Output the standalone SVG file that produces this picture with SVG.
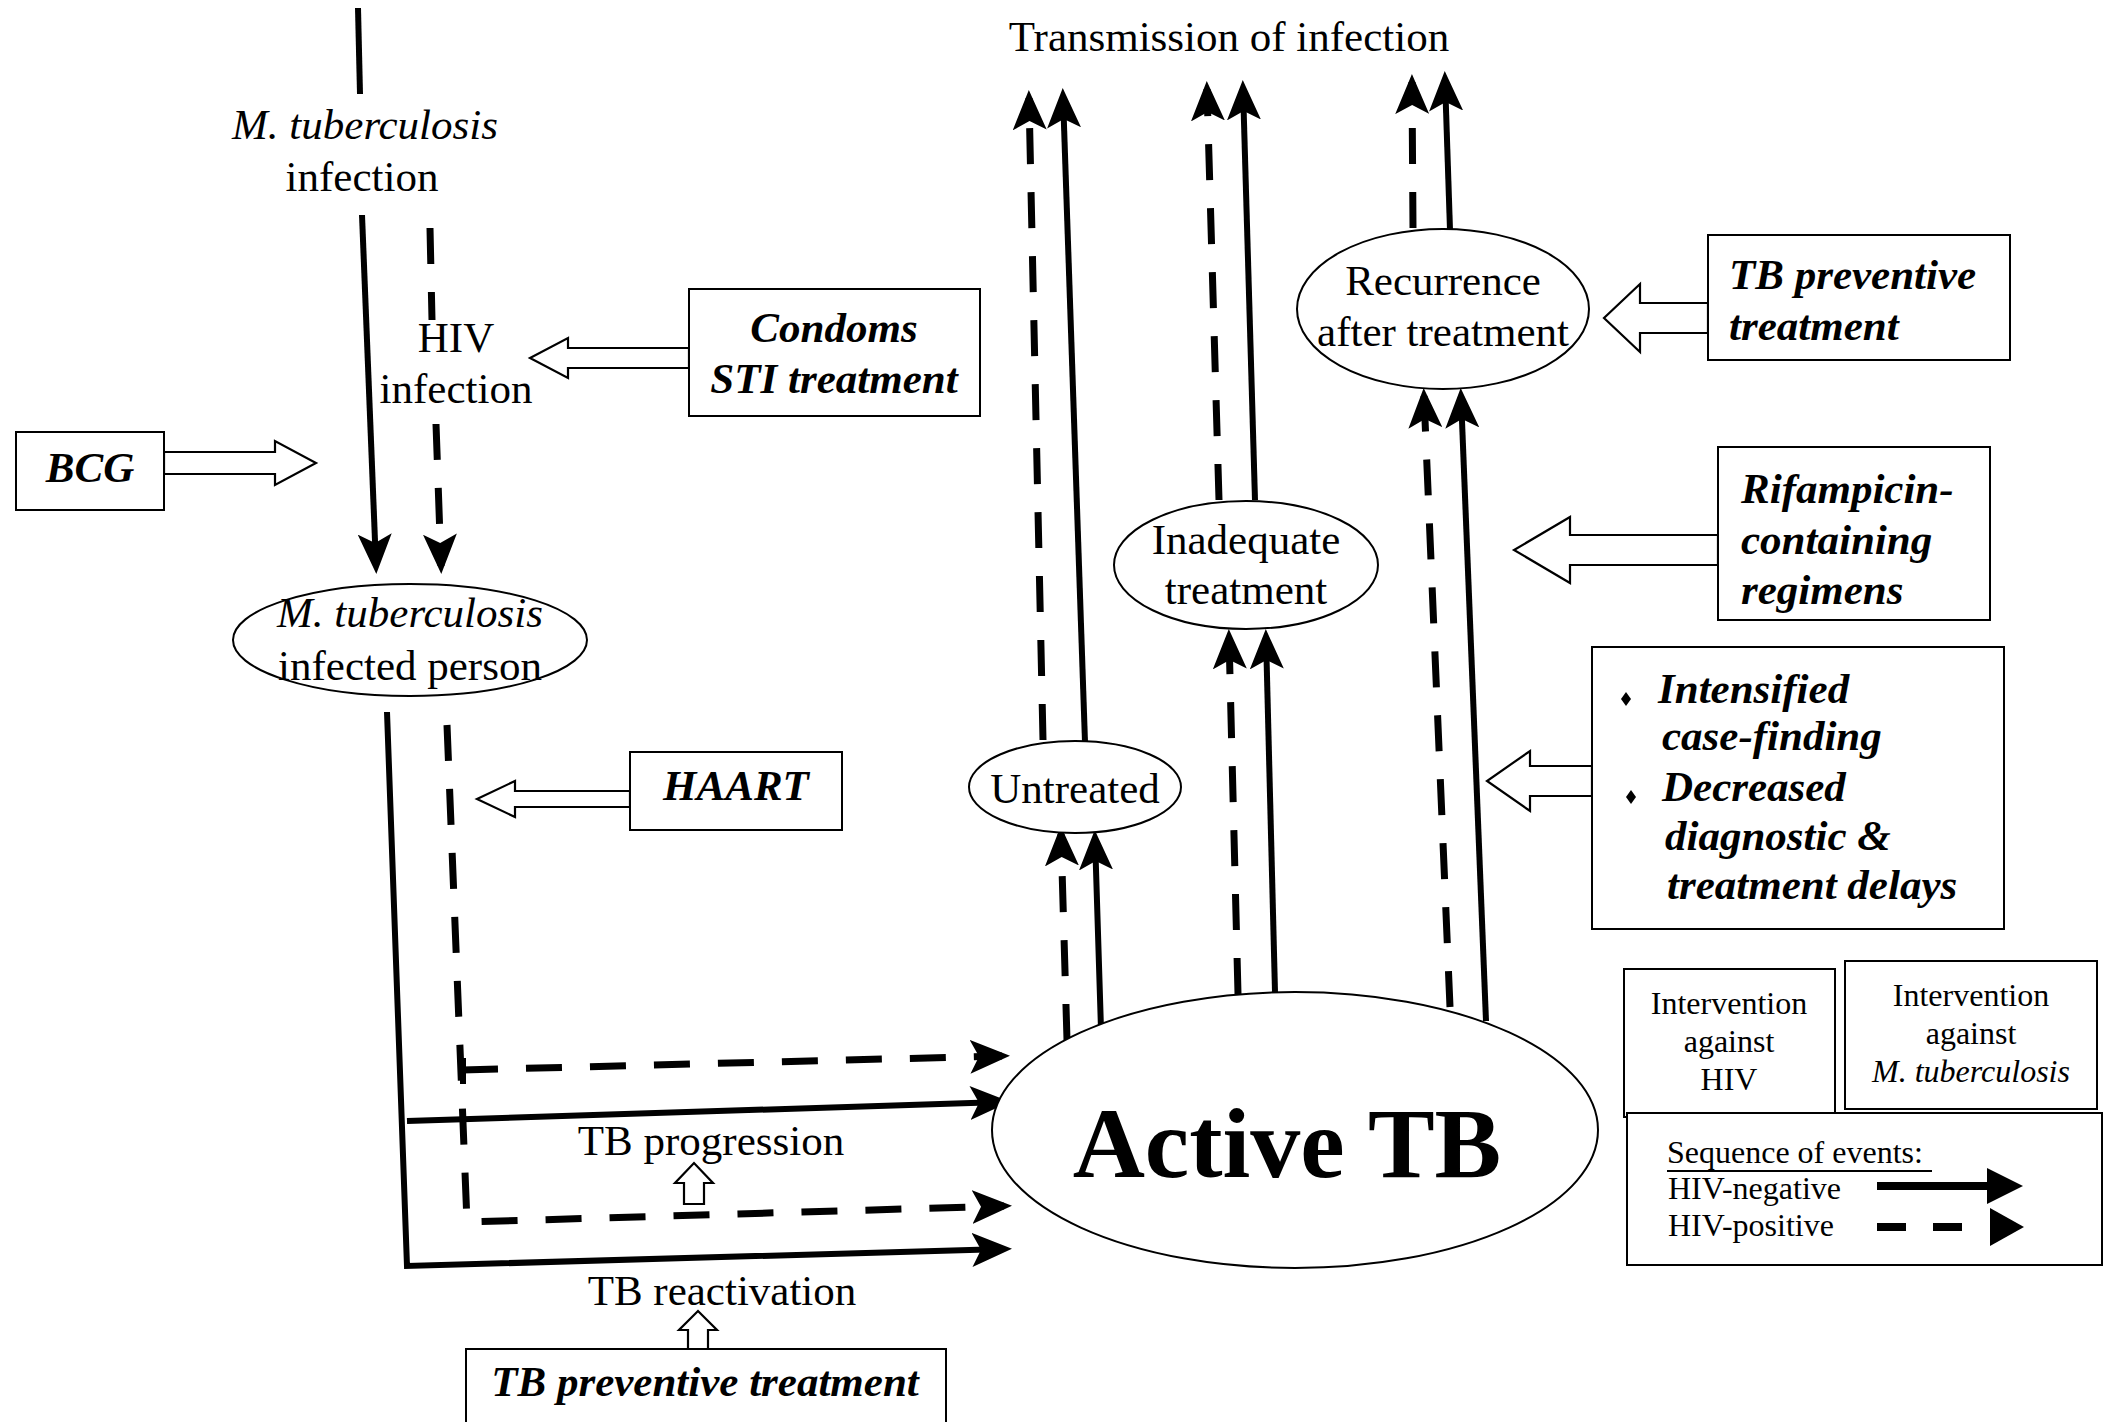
<svg xmlns="http://www.w3.org/2000/svg" width="2105" height="1422" viewBox="0 0 2105 1422">
<style>
.bx{fill:#fff;stroke:#000;stroke-width:2}
.el{fill:#fff;stroke:#000;stroke-width:2}
.sol{stroke:#000;stroke-width:6;fill:none}
.dsh{stroke:#000;stroke-width:7;fill:none;stroke-dasharray:36 28}
.ha{fill:#fff;stroke:#000;stroke-width:2.2;stroke-linejoin:miter}
text{font-family:"Liberation Serif","Times New Roman",serif;fill:#000}
.t{font-size:43px}
.c{text-anchor:middle}
.i{font-style:italic}
.bi{font-style:italic;font-weight:bold;font-size:43px}
.lg{font-size:32px}
</style>
<defs>
<marker id="ah" markerUnits="userSpaceOnUse" viewBox="0 0 40 34" refX="32" refY="17" markerWidth="40" markerHeight="34" orient="auto">
<path d="M0,0 L40,17 L0,34 L9,17 z" fill="#000"/>
</marker>
</defs>
<rect width="2105" height="1422" fill="#fff"/>

<g id="connectors">
<!-- top infection line -->
<line class="sol" x1="358" y1="8" x2="360" y2="94"/>
<line class="sol" x1="362" y1="215" x2="376" y2="566" marker-end="url(#ah)"/>
<line class="dsh" x1="430" y1="228" x2="432" y2="320"/>
<line class="dsh" x1="436" y1="424" x2="441" y2="566" marker-end="url(#ah)"/>
<!-- from infected person -->
<polyline class="sol" points="387,712 407,1266 1004,1249" marker-end="url(#ah)"/>
<line class="sol" x1="407" y1="1121" x2="1002" y2="1102" marker-end="url(#ah)"/>
<polyline class="dsh" points="447,725 467,1222 1004,1206" marker-end="url(#ah)"/>
<line class="dsh" x1="462" y1="1070" x2="1002" y2="1056" marker-end="url(#ah)"/>
<line stroke="#000" stroke-width="6" x1="463" y1="1058" x2="463" y2="1084"/>
<!-- Active TB to Untreated -->
<line class="dsh" x1="1067" y1="1040" x2="1061" y2="834" marker-end="url(#ah)"/>
<line class="sol" x1="1101" y1="1029" x2="1095" y2="838" marker-end="url(#ah)"/>
<!-- Untreated to transmission -->
<line class="dsh" x1="1043" y1="740" x2="1029" y2="98" marker-end="url(#ah)"/>
<line class="sol" x1="1085" y1="742" x2="1063" y2="96" marker-end="url(#ah)"/>
<!-- Active TB to Inadequate -->
<line class="dsh" x1="1238" y1="994" x2="1229" y2="637" marker-end="url(#ah)"/>
<line class="sol" x1="1275" y1="992" x2="1266" y2="637" marker-end="url(#ah)"/>
<!-- Inadequate to transmission -->
<line class="dsh" x1="1219" y1="500" x2="1207" y2="89" marker-end="url(#ah)"/>
<line class="sol" x1="1255" y1="500" x2="1243" y2="88" marker-end="url(#ah)"/>
<!-- Active TB to Recurrence -->
<line class="dsh" x1="1450" y1="1007" x2="1424" y2="396" marker-end="url(#ah)"/>
<line class="sol" x1="1486" y1="1021" x2="1461" y2="396" marker-end="url(#ah)"/>
<!-- Recurrence to transmission -->
<line class="dsh" x1="1413" y1="228" x2="1412" y2="82" marker-end="url(#ah)"/>
<line class="sol" x1="1450" y1="230" x2="1445" y2="79" marker-end="url(#ah)"/>
<!-- hollow intervention arrows -->
<polygon class="ha" points="164,452 275,452 275,441 316,463 275,485 275,474 164,474"/>
<polygon class="ha" points="689,348 568,348 568,338 530,358 568,378 568,368 689,368"/>
<polygon class="ha" points="630,791 515,791 515,781 477,799 515,817 515,807 630,807"/>
<polygon class="ha" points="1708,303 1640,303 1640,284 1604,318 1640,352 1640,333 1708,333"/>
<polygon class="ha" points="1718,535 1570,535 1570,517 1514,550 1570,583 1570,565 1718,565"/>
<polygon class="ha" points="1592,766 1530,766 1530,751 1487,781 1530,811 1530,796 1592,796"/>
<polygon class="ha" points="684,1204 684,1183 675,1183 694,1163 713,1183 704,1183 704,1204"/>
<polygon class="ha" points="688,1349 688,1330 679,1330 698,1311 717,1330 708,1330 708,1349"/>
</g>

<g id="label-mtb-infection">
<text class="t c i" x="365" y="139">M. tuberculosis</text>
<text class="t c" x="362" y="191">infection</text>
</g>
<g id="label-hiv-infection">
<text class="t c" x="456" y="352">HIV</text>
<text class="t c" x="456" y="403">infection</text>
</g>
<g id="label-transmission">
<text class="t c" x="1229" y="51">Transmission of infection</text>
</g>
<g id="label-tb-progression">
<text class="t c" x="711" y="1155">TB progression</text>
</g>
<g id="label-tb-reactivation">
<text class="t c" x="722" y="1305">TB reactivation</text>
</g>

<g id="node-infected-person">
<ellipse class="el" cx="410" cy="640" rx="177" ry="56"/>
<text class="t c i" x="410" y="627">M. tuberculosis</text>
<text class="t c" x="410" y="680">infected person</text>
</g>
<g id="node-bcg">
<rect class="bx" x="16" y="432" width="148" height="78"/>
<text class="bi c" x="90" y="482">BCG</text>
</g>
<g id="node-condoms">
<rect class="bx" x="689" y="289" width="291" height="127"/>
<text class="bi c" x="834" y="342">Condoms</text>
<text class="bi c" x="834" y="393">STI treatment</text>
</g>
<g id="node-haart">
<rect class="bx" x="630" y="752" width="212" height="78"/>
<text class="bi c" x="736" y="800">HAART</text>
</g>
<g id="node-tb-preventive-bottom">
<rect class="bx" x="466" y="1349" width="480" height="90"/>
<text class="bi c" x="705" y="1396">TB preventive treatment</text>
</g>
<g id="node-active-tb">
<ellipse class="el" cx="1295" cy="1130" rx="303" ry="138"/>
<text class="c" x="1287" y="1177" style="font-size:100px;font-weight:bold">Active TB</text>
</g>
<g id="node-untreated">
<ellipse class="el" cx="1075" cy="787" rx="106" ry="46"/>
<text class="t c" x="1075" y="803">Untreated</text>
</g>
<g id="node-inadequate">
<ellipse class="el" cx="1246" cy="565" rx="132" ry="64"/>
<text class="t c" x="1246" y="554">Inadequate</text>
<text class="t c" x="1246" y="604">treatment</text>
</g>
<g id="node-recurrence">
<ellipse class="el" cx="1443" cy="309" rx="146" ry="80"/>
<text class="t c" x="1443" y="295">Recurrence</text>
<text class="t c" x="1443" y="346">after treatment</text>
</g>
<g id="node-tb-preventive-top">
<rect class="bx" x="1708" y="235" width="302" height="125"/>
<text class="bi" x="1729" y="289">TB preventive</text>
<text class="bi" x="1729" y="340">treatment</text>
</g>
<g id="node-rifampicin">
<rect class="bx" x="1718" y="447" width="272" height="173"/>
<text class="bi" x="1741" y="503">Rifampicin-</text>
<text class="bi" x="1741" y="554">containing</text>
<text class="bi" x="1741" y="604">regimens</text>
</g>
<g id="node-case-finding">
<rect class="bx" x="1592" y="647" width="412" height="282"/>
<path d="M1626,692 l5,7 l-5,7 l-5,-7 z" fill="#000"/>
<path d="M1631,790 l5,7 l-5,7 l-5,-7 z" fill="#000"/>
<text class="bi" x="1658" y="703">Intensified</text>
<text class="bi" x="1662" y="750">case-finding</text>
<text class="bi" x="1662" y="801">Decreased</text>
<text class="bi" x="1665" y="850">diagnostic &amp;</text>
<text class="bi" x="1667" y="899">treatment delays</text>
</g>
<g id="legend">
<rect class="bx" x="1624" y="969" width="211" height="148"/>
<text class="lg c" x="1729" y="1014">Intervention</text>
<text class="lg c" x="1729" y="1052">against</text>
<text class="lg c" x="1729" y="1090">HIV</text>
<rect class="bx" x="1845" y="961" width="252" height="148"/>
<text class="lg c" x="1971" y="1006">Intervention</text>
<text class="lg c" x="1971" y="1044">against</text>
<text class="lg c i" x="1971" y="1082">M. tuberculosis</text>
<rect class="bx" x="1627" y="1113" width="475" height="152"/>
<text class="lg" x="1667" y="1163">Sequence of events:</text>
<line x1="1667" y1="1171" x2="1932" y2="1171" stroke="#000" stroke-width="2"/>
<text class="lg" x="1668" y="1199">HIV-negative</text>
<text class="lg" x="1668" y="1236">HIV-positive</text>
<line x1="1877" y1="1186" x2="1990" y2="1186" stroke="#000" stroke-width="8"/>
<path d="M1987,1168 L2023,1186 L1987,1204 z" fill="#000"/>
<line x1="1877" y1="1227" x2="1967" y2="1227" stroke="#000" stroke-width="8" stroke-dasharray="29 27"/>
<path d="M1990,1208 L2024,1227 L1990,1246 z" fill="#000"/>
</g>
</svg>
